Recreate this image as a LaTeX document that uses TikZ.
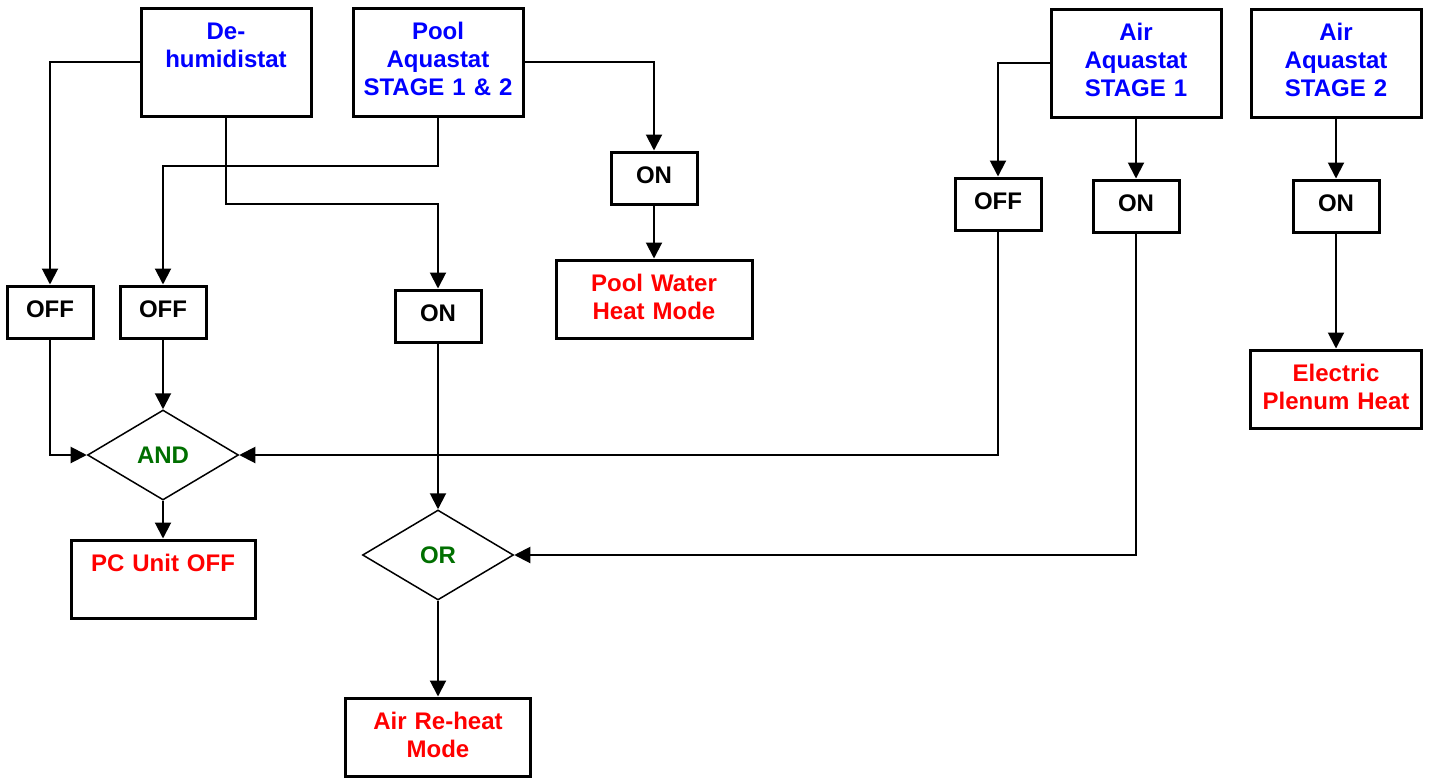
\documentclass[tikz,border=0pt]{standalone}
\usepackage{fontspec}
\setmainfont{Liberation Sans}
\usepackage{xcolor}
\usepackage{tikz}
\usetikzlibrary{arrows.meta,positioning,shapes.geometric}
\definecolor{SensorBlue}{HTML}{0000FF}
\definecolor{ResultRed}{HTML}{FF0000}
\definecolor{GateGreen}{HTML}{006F00}
\tikzset{
  sensorbox/.style={draw, line width=3pt, inner sep=0pt, text width=170pt, align=center, text height=31pt, text depth=77pt, text=SensorBlue},
  resultbox/.style={draw, line width=3pt, inner sep=0pt, align=center, text height=31pt, text depth=47pt, text=ResultRed},
  switchbox/.style={draw, line width=3pt, inner sep=0pt, minimum width=86pt, minimum height=52pt, text height=17pt, text depth=7pt},
  gate/.style={draw, diamond, line width=1.5pt, inner sep=0pt, minimum width=151pt, minimum height=90pt, text=GateGreen},
  arrow/.style={-{Triangle[length=16pt,width=16pt]}, line width=2pt}
}

\begin{document}
\begin{tikzpicture}[x=1pt, y=-1pt, font=\bfseries\fontsize{24}{28}\selectfont]
  \useasboundingbox (0,0) rectangle (1430,777);

  % thermostats
  \node[sensorbox] (dehum) at (226,62) {De-\\humidistat};
  \node[sensorbox] (pool) at (438,62) {Pool\\Aquastat\\STAGE 1 \& 2};
  \node[sensorbox] (airone) at (1136,63) {Air\\Aquastat\\STAGE 1};
  \node[sensorbox] (airtwo) at (1336,63) {Air\\Aquastat\\STAGE 2};

  % contact states
  \node[switchbox] (offa) at (50,312) {OFF};
  \node[switchbox] (offb) at (163,312) {OFF};
  \node[switchbox] (onc) at (438,316) {ON};
  \node[switchbox] (ona) at (654,178) {ON};
  \node[switchbox] (offd) at (998,204) {OFF};
  \node[switchbox] (one) at (1136,206) {ON};
  \node[switchbox] (onf) at (1336,206) {ON};

  % logic
  \node[gate] (and) at (163,455) {AND};
  \node[gate] (or) at (438,555) {OR};

  % resulting modes
  \node[resultbox, text width=196pt] (poolheat) at (654,299) {Pool Water\\Heat Mode};
  \node[resultbox, text width=184pt] (pcoff) at (163,579) {PC Unit OFF};
  \node[resultbox, text width=185pt] (reheat) at (438,737) {Air Re-heat\\Mode};
  \node[resultbox, text width=171pt] (plenum) at (1336,389) {Electric\\Plenum Heat};

  \draw[arrow] (dehum.west) -| (offa);
  \draw[arrow] (pool.south) -- ++(0,48) -| (offb);
  \draw[arrow] (dehum.south) -- ++(0,86) -| (onc);
  \draw[arrow] (pool.east) -| (ona);
  \draw[arrow] (ona) -- (poolheat);
  \draw[arrow] (offa) |- (and);
  \draw[arrow] (offb) -- (and);
  \draw[arrow] (onc) -- (or);
  \draw[arrow] (and) -- (pcoff);
  \draw[arrow] (or) -- (reheat);
  \draw[arrow] (airone.west) -| (offd);
  \draw[arrow] (airone) -- (one);
  \draw[arrow] (offd) |- (and);
  \draw[arrow] (one) |- (or);
  \draw[arrow] (airtwo) -- (onf);
  \draw[arrow] (onf) -- (plenum);
\end{tikzpicture}
\end{document}
